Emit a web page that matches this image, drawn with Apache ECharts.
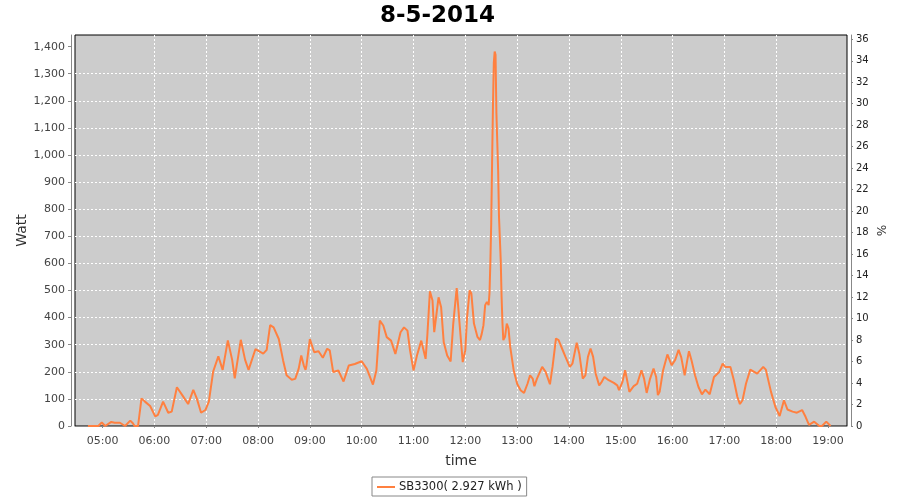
<!DOCTYPE html>
<html>
<head>
<meta charset="utf-8">
<script src="https://cdn.jsdelivr.net/npm/echarts@6/dist/echarts.min.js"></script>
<style>
html,body{margin:0;padding:0;background:#fff;}
#chart{width:900px;height:500px;}
</style>
</head>
<body>
<div id="chart"></div>
<script>
var chartTitle = '8-5-2014';
var seriesName = 'SB3300( 2.927 kWh )';
var xTickLabels = ['05:00','06:00','07:00','08:00','09:00','10:00','11:00','12:00','13:00','14:00','15:00','16:00','17:00','18:00','19:00'];
var times = ['04:43','04:55','04:59','05:03','05:10','05:14','05:20','05:26','05:32','05:35','05:37','05:41','05:45','05:49','05:55',
 '06:01','06:04','06:10','06:16','06:20','06:26','06:32','06:39','06:45','06:49','06:54','06:59',
 '07:03','07:08','07:14','07:19','07:25','07:30','07:33','07:40','07:45','07:49','07:57',
 '08:06','08:10','08:14','08:18','08:24','08:29','08:33','08:39','08:43','08:47','08:50','08:53','08:55','08:56',
 '09:00','09:02','09:05','09:10','09:15','09:20','09:23','09:27','09:33','09:39','09:45','09:52',
 '10:00','10:06','10:13','10:17','10:21','10:25','10:29','10:34','10:39','10:45','10:49','10:53','10:56',
 '11:00','11:04','11:09','11:14','11:16','11:19','11:22','11:24','11:29','11:32','11:35','11:39','11:43','11:46','11:50','11:54','11:57',
 '12:00','12:02','12:05','12:07','12:10','12:14','12:17','12:19','12:21','12:23','12:25','12:27','12:28','12:29','12:30','12:31','12:32','12:33','12:34','12:35','12:36','12:38','12:39','12:41','12:42','12:43','12:44','12:46','12:48','12:50','12:52','12:56',
 '13:00','13:04','13:08','13:12','13:15','13:18','13:20','13:23','13:29','13:33','13:38','13:41','13:45','13:48','13:52','13:56',
 '14:01','14:04','14:09','14:12','14:16','14:19','14:22','14:25','14:28','14:31','14:35','14:38','14:41','14:46','14:52','14:56','14:58',
 '15:02','15:05','15:07','15:10','15:15','15:19','15:24','15:27','15:30','15:34','15:38','15:41','15:43','15:45','15:49','15:54','15:59',
 '16:03','16:07','16:10','16:14','16:17','16:19','16:22','16:26','16:30','16:34','16:38','16:43','16:48','16:54','16:58',
 '17:01','17:07','17:11','17:15','17:18','17:21','17:25','17:30','17:38','17:45','17:48','17:54','17:59',
 '18:04','18:09','18:13','18:19','18:24','18:30','18:34','18:38','18:44','18:50','18:53','18:58','19:03'];
var watts = [0,0,13,0,15,12,12,0,20,10,0,0,102,90,74,
 35,41,90,49,53,143,115,81,133,102,49,59,
 90,201,257,207,316,244,176,318,244,207,284,
 267,281,372,364,321,242,187,171,174,211,260,223,207,223,
 321,315,272,276,252,285,279,199,205,164,223,229,
 239,211,153,205,389,371,328,315,266,346,364,352,279,
 205,260,315,248,334,497,463,346,475,438,309,260,238,377,509,352,236,
 280,400,501,489,378,329,317,340,372,446,458,446,491,602,749,971,1178,1340,1382,1370,1155,945,772,613,476,380,317,329,378,360,292,206,
 156,132,122,156,187,175,147,175,218,200,154,218,323,317,286,255,
 218,230,307,267,175,187,255,286,255,193,150,163,181,169,159,150,132,
 163,206,175,126,147,156,206,175,122,175,212,181,114,126,205,264,224,
 244,281,254,187,242,276,242,187,144,117,134,117,181,199,230,
 218,218,169,108,81,95,156,208,193,218,208,126,71,
 37,95,61,53,49,59,34,4,16,0,0,16,0];
var leftTicks = [0,100,200,300,400,500,600,700,800,900,1000,1100,1200,1300,1400];
var rightTicks = [0,2,4,6,8,10,12,14,16,18,20,22,24,26,28,30,32,34,36];

function toMin(s){var p=s.split(':');return (+p[0])*60+(+p[1]);}
function toHM(m){var h=Math.floor(m/60),mm=Math.round(m-h*60);return (h<10?'0':'')+h+':'+(mm<10?'0':'')+mm;}
var data = times.map(function(t,i){return [toMin(t), watts[i]];});
var xTicks = xTickLabels.map(toMin);

var font = 'DejaVu Sans';
var chart = echarts.init(document.getElementById('chart'), null, {renderer:'canvas'});
chart.setOption({
  animation:false,
  backgroundColor:'#ffffff',
  title:{text:chartTitle,left:375,top:0,textStyle:{fontFamily:font,fontSize:23,fontWeight:'bold',color:'#000'}},
  grid:{left:75,right:53,top:35,bottom:74,show:true,backgroundColor:'#cccccc',borderColor:'#000',borderWidth:1},
  legend:{left:372,top:477,padding:[4,5,3,5],itemGap:0,itemWidth:18,itemHeight:2,icon:'rect',borderColor:'#888',borderWidth:1,
    textStyle:{fontFamily:font,fontSize:11.5,color:'#222',padding:[0,0,0,-1]},data:[seriesName]},
  xAxis:{type:'value',min:268,max:1162,offset:4,
    name:'time',nameLocation:'middle',nameGap:24,nameTextStyle:{fontFamily:font,fontSize:14,color:'#333'},
    axisLine:{show:true,lineStyle:{color:'#888',width:1}},
    axisTick:{show:true,length:2,customValues:xTicks,lineStyle:{color:'#888'}},
    axisLabel:{customValues:xTicks,margin:6,fontFamily:font,fontSize:11,color:'#444',formatter:function(v){return toHM(v);}},
    splitLine:{show:true,showMinLine:false,showMaxLine:false,lineStyle:{color:'#ffffff',type:[2,2],width:1}}
  },
  yAxis:[
    {type:'value',min:0,max:1443,position:'left',offset:4,
     name:'Watt',nameLocation:'middle',nameGap:42,nameMoveOverlap:false,nameTextStyle:{fontFamily:font,fontSize:14,color:'#333'},
     axisLine:{show:true,lineStyle:{color:'#888',width:1}},
     axisTick:{show:true,length:3,customValues:leftTicks,lineStyle:{color:'#888'}},
     axisLabel:{customValues:leftTicks,margin:6,fontFamily:font,fontSize:11,color:'#444',
       formatter:function(v){return v.toLocaleString('en-US');}},
     splitLine:{show:true,showMinLine:false,showMaxLine:false,lineStyle:{color:'#ffffff',type:[2,2],width:1}}
    },
    {type:'value',min:0,max:36.4,position:'right',offset:4,
     name:'%',nameLocation:'middle',nameGap:23,nameMoveOverlap:false,nameRotate:-90,nameTextStyle:{fontFamily:font,fontSize:12,color:'#333'},
     axisLine:{show:true,lineStyle:{color:'#888',width:1}},
     axisTick:{show:true,length:2,customValues:rightTicks,lineStyle:{color:'#888'}},
     axisLabel:{customValues:rightTicks,margin:5,fontFamily:font,fontSize:10,color:'#222'},
     splitLine:{show:false}
    }
  ],
  series:[{name:seriesName,type:'line',yAxisIndex:0,symbol:'none',data:data,
    lineStyle:{color:'#ff8040',width:2},itemStyle:{color:'#ff8040'}}]
});
</script>
</body>
</html>
